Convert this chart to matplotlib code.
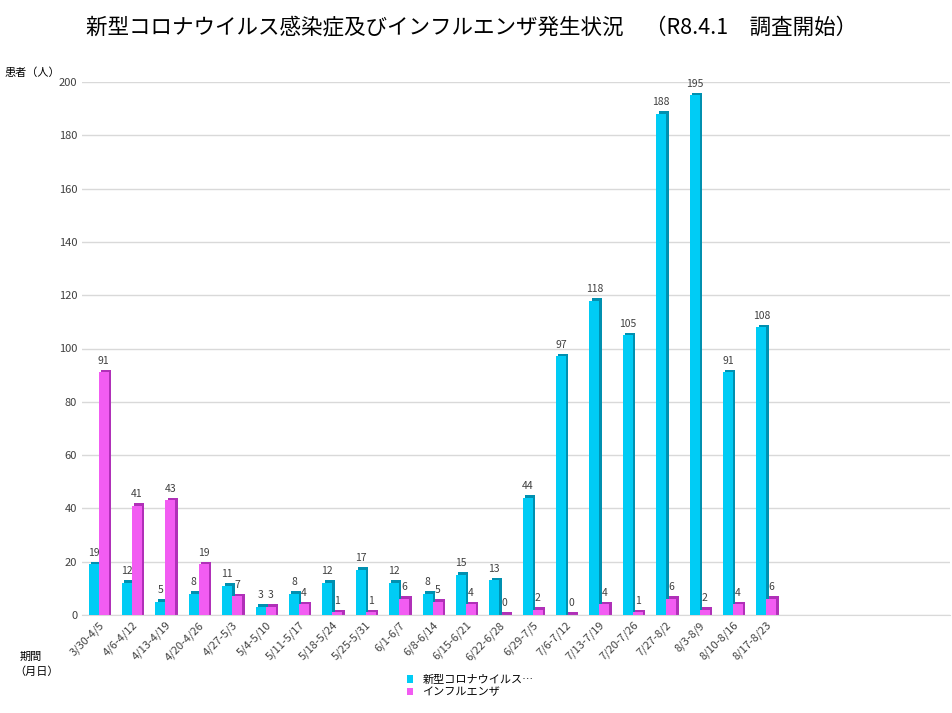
import matplotlib
matplotlib.use("Agg")
import matplotlib.pyplot as plt
import numpy as np

plt.rcParams['font.family'] = ['Noto Sans CJK JP', 'DejaVu Sans']

weeks = ["3/30-4/5","4/6-4/12","4/13-4/19","4/20-4/26","4/27-5/3","5/4-5/10","5/11-5/17",
         "5/18-5/24","5/25-5/31","6/1-6/7","6/8-6/14","6/15-6/21","6/22-6/28","6/29-7/5",
         "7/6-7/12","7/13-7/19","7/20-7/26","7/27-8/2","8/3-8/9","8/10-8/16","8/17-8/23"]
covid = [19,12,5,8,11,3,8,12,17,12,8,15,13,44,97,118,105,188,195,91,108]
flu = [91,41,43,19,7,3,4,1,1,6,5,4,0,2,0,4,1,6,2,4,6]
n_slots = 26

fig = plt.figure(figsize=(9.53, 7.13), dpi=100)
ax = fig.add_axes([82/953, 1-615/713, 868/953, (615-82)/713])
x = np.arange(len(weeks))
w = 0.3
dx, dy = 0.07, 1.0
c1, c1d = "#00CCF5", "#0090B0"
c2, c2d = "#F25CF2", "#B030B8"
ax.bar(x - w/2 + dx, np.array(covid) + dy, w, color=c1d, zorder=2)
ax.bar(x + w/2 + dx, np.array(flu) + dy, w, color=c2d, zorder=2)
b1 = ax.bar(x - w/2, covid, w, color=c1, zorder=3, label="新型コロナウイルス…")
b2 = ax.bar(x + w/2, flu, w, color=c2, zorder=3, label="インフルエンザ")
for xi, v in zip(x, covid):
    ax.text(xi - w/2, v + 2.5, str(v), ha="center", va="bottom", fontsize=7.5, color="#404040")
for xi, v in zip(x, flu):
    ax.text(xi + w/2, v + 2.5, str(v), ha="center", va="bottom", fontsize=7.5, color="#404040")

ax.set_xlim(-0.5, n_slots - 0.5)
ax.set_ylim(0, 200)
ax.set_yticks(range(0, 201, 20))
ax.tick_params(axis='y', labelsize=8, length=0, colors="#404040")
ax.set_xticks(x)
ax.set_xticklabels(weeks, rotation=45, ha="right", rotation_mode="anchor", fontsize=8, color="#404040")
ax.tick_params(axis='x', length=0)
ax.grid(axis='y', color="#D9D9D9", lw=1, zorder=0)
for s in ["top", "right", "left"]:
    ax.spines[s].set_visible(False)
ax.spines["bottom"].set_color("#D9D9D9")

fig.text(0.09, 1-28/713, "新型コロナウイルス感染症及びインフルエンザ発生状況　（R8.4.1　調査開始）",
         fontsize=15.5, va="center", ha="left")
fig.text(5/953, 1-73/713, "患者（人）", fontsize=8, va="center")
fig.text(20/953, 1-657/713, "期間", fontsize=8, va="center")
fig.text(14/953, 1-672/713, "（月日）", fontsize=8, va="center")
fig.legend(handles=[b1, b2], loc="center", bbox_to_anchor=(470/953, 1-686/713), ncol=1,
           frameon=False, fontsize=8, handlelength=0.6, handleheight=0.6, labelspacing=0.2)
fig.savefig("out.png", dpi=100)
